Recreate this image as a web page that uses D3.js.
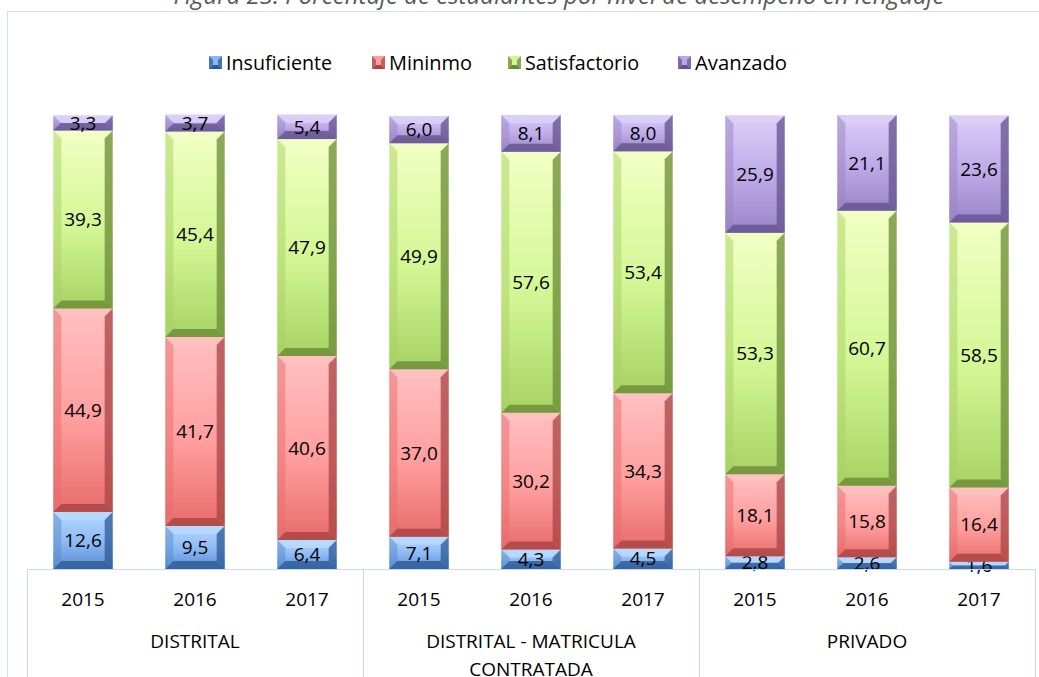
<!DOCTYPE html>
<html>
<head>
<meta charset="utf-8">
<script src="https://cdn.jsdelivr.net/npm/d3@7"></script>
<style>
  body { margin: 0; background: #fff; }
  svg { display: block; }
  text { font-family: "Open Sans", "DejaVu Sans", sans-serif; fill: #000; }
</style>
</head>
<body>
<div id="chart"></div>
<script>
// data
const groups = ["DISTRITAL", "DISTRITAL - MATRICULA CONTRATADA", "PRIVADO"]
const years = ["2015", "2016", "2017"]
const levels = ["Insuficiente", "Mininmo", "Satisfactorio", "Avanzado"]
const insuficiente = [12.6, 9.5, 6.4, 7.1, 4.3, 4.5, 2.8, 2.6, 1.6]
const minimo = [44.9, 41.7, 40.6, 37.0, 30.2, 34.3, 18.1, 15.8, 16.4]
const satisfactorio = [39.3, 45.4, 47.9, 49.9, 57.6, 53.4, 53.3, 60.7, 58.5]
const avanzado = [3.3, 3.7, 5.4, 6.0, 8.1, 8.0, 25.9, 21.1, 23.6]

const W = 1039, H = 677
const plotL = 27, plotR = 1035, plotT = 116, plotB = 569

// colours: light, base, dark, edge
const palette = [
    {light: "#b8d8ff", base: "#8ab8f4", dark: "#5a8ad0", edge: "#2e5a96"},
    {light: "#ffc0c0", base: "#ff9e9e", dark: "#e86c6c", edge: "#a84444"},
    {light: "#f2ffc4", base: "#d2f694", dark: "#a8d264", edge: "#6a8a36"},
    {light: "#dccef8", base: "#bca8e6", dark: "#9a84c8", edge: "#64528e"}
]

const series = [insuficiente, minimo, satisfactorio, avanzado]
const cols = []
groups.forEach((g, gi) => years.forEach((yr, yi) => cols.push({group: g, year: yr, key: gi + "-" + yi})))

const svg = d3.select("#chart").append("svg").attr("width", W).attr("height", H)
const defs = svg.append("defs")

palette.forEach((c, i) => {
    const g = defs.append("linearGradient").attr("id", "grad" + i)
        .attr("x1", 0).attr("y1", 0).attr("x2", 0).attr("y2", 1)
    g.append("stop").attr("offset", "0%").attr("stop-color", c.light)
    g.append("stop").attr("offset", "55%").attr("stop-color", c.base)
    g.append("stop").attr("offset", "100%").attr("stop-color", c.dark)
})

// frame
svg.append("rect").attr("x", 7.5).attr("y", 11.5).attr("width", W).attr("height", H)
    .attr("fill", "none").attr("stroke", "#d9e1f0")

// title (cut off at top, as in the source)
svg.append("text").attr("x", 559).attr("y", 4).attr("text-anchor", "middle")
    .style("font-style", "italic").style("font-size", "24px").style("fill", "#595959")
    .text("Figura 23. Porcentaje de estudiantes por nivel de desempeño en lenguaje")

const x = d3.scaleBand().domain(cols.map(d => d.key)).range([plotL, plotR]).paddingInner(0.47).paddingOuter(0.235)
const y = d3.scaleLinear().domain([0, 100]).range([plotB, plotT])

// stacked data
const rows = cols.map((c, i) => {
    const r = {key: c.key}
    levels.forEach((l, li) => r[l] = series[li][i])
    return r
})
const stack = d3.stack().keys(levels)(rows)

const bars = svg.append("g")
stack.forEach((layer, li) => {
    const c = palette[li]
    layer.forEach(d => {
        const x0 = x(d.data.key), w = x.bandwidth()
        const y0 = y(d[1]), y1 = y(d[0])
        const h = y1 - y0
        const b = Math.min(8, h / 2)
        const g = bars.append("g")
        g.append("rect").attr("x", x0).attr("y", y0).attr("width", w).attr("height", h)
            .attr("fill", "url(#grad" + li + ")")
        // top bevel
        g.append("polygon").attr("points", [[x0, y0], [x0 + w, y0], [x0 + w - b, y0 + b], [x0 + b, y0 + b]].join(" "))
            .attr("fill", c.light).attr("opacity", 0.9)
        // left bevel
        g.append("polygon").attr("points", [[x0, y0], [x0 + b, y0 + b], [x0 + b, y1 - b], [x0, y1]].join(" "))
            .attr("fill", c.dark).attr("opacity", 0.5)
        // right bevel
        g.append("polygon").attr("points", [[x0 + w, y0], [x0 + w - b, y0 + b], [x0 + w - b, y1 - b], [x0 + w, y1]].join(" "))
            .attr("fill", c.edge).attr("opacity", 0.75)
        // bottom bevel
        g.append("polygon").attr("points", [[x0, y1], [x0 + b, y1 - b], [x0 + w - b, y1 - b], [x0 + w, y1]].join(" "))
            .attr("fill", c.edge).attr("opacity", 0.8)
        g.append("text").attr("x", x0 + w / 2).attr("y", (y0 + y1) / 2).attr("dy", "0.35em")
            .attr("text-anchor", "middle").style("font-size", "19px")
            .text(d3.format(".1f")(d[1] - d[0]).replace(".", ","))
    })
})

// category axis (table style)
const axis = svg.append("g").attr("stroke", "#c9d9ef").attr("fill", "none")
axis.append("line").attr("x1", plotL).attr("x2", plotR).attr("y1", plotB + 0.5).attr("y2", plotB + 0.5)
const groupW = (plotR - plotL) / groups.length
d3.range(groups.length + 1).forEach(i => {
    const gx = Math.round(plotL + i * groupW) + 0.5
    axis.append("line").attr("x1", gx).attr("x2", gx).attr("y1", plotB).attr("y2", H)
})

svg.append("g").selectAll("text").data(cols).join("text")
    .attr("x", d => x(d.key) + x.bandwidth() / 2).attr("y", 606)
    .attr("text-anchor", "middle").style("font-size", "19px")
    .text(d => d.year)

const groupLabels = [["DISTRITAL"], ["DISTRITAL - MATRICULA", "CONTRATADA"], ["PRIVADO"]]
groupLabels.forEach((lines, i) => {
    const t = svg.append("text").attr("x", plotL + groupW * (i + 0.5)).attr("y", 648)
        .attr("text-anchor", "middle").style("font-size", "19px")
    lines.forEach((s, j) => t.append("tspan").attr("x", plotL + groupW * (i + 0.5)).attr("dy", j ? 28 : 0).text(s))
})

// legend (narrow text like the source)
const legendX = [209, 372, 508, 678]
const legendLen = [106, 83, 114, 92]
const legend = svg.append("g")
levels.forEach((l, i) => {
    const c = palette[i]
    const lg = legend.append("g").attr("transform", "translate(" + legendX[i] + ",56)")
    lg.append("rect").attr("width", 13).attr("height", 13).attr("fill", c.base)
    lg.append("polygon").attr("points", "0,0 4,4 4,9 0,13").attr("fill", c.edge).attr("opacity", 0.7)
    lg.append("polygon").attr("points", "13,0 9,4 9,9 13,13").attr("fill", c.edge).attr("opacity", 0.7)
    lg.append("polygon").attr("points", "0,13 4,9 9,9 13,13").attr("fill", c.edge)
    lg.append("text").attr("x", 17).attr("y", 13.5).style("font-size", "20px")
        .attr("textLength", legendLen[i]).attr("lengthAdjust", "spacingAndGlyphs")
        .text(l)
})
</script>
</body>
</html>
